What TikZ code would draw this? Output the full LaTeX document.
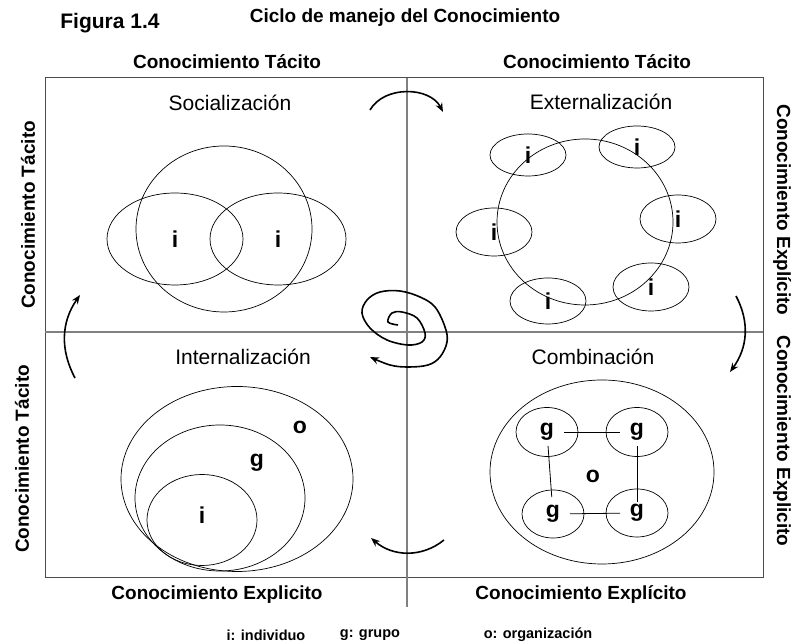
\documentclass[tikz,border=0pt]{standalone}
\usepackage{fontspec}
\setmainfont{Liberation Sans}
\usetikzlibrary{shapes,arrows.meta}

\begin{document}
\begin{tikzpicture}[x=1pt,y=1pt,
  marco/.style={draw=black!70,line width=1pt},
  eje/.style={draw=black!50,line width=1.3pt},
  rotulo/.style={font=\fontsize{19}{19}\selectfont\bfseries},
  fase/.style={font=\fontsize{21}{21}\selectfont},
  letra/.style={font=\fontsize{23}{23}\selectfont\bfseries},
  leyenda/.style={font=\fontsize{14.5}{14.5}\selectfont\bfseries},
  elipse/.style={draw,ellipse,line width=0.7pt,inner sep=0pt,letra},
  flecha/.style={line width=1.6pt,-{Stealth[length=9pt,width=7pt]}},
  enlace/.style={line width=0.8pt,shorten <=17pt,shorten >=17pt}]
\useasboundingbox (0,0) rectangle (797,644);

%: \persona{<name>}{<x,y>}{<width>}{<height>}{<text>}
\newcommand{\persona}[5]{%
\node[elipse,minimum width=#3,minimum height=#4] (#1) at (#2) {#5};}

% frame and axes
\draw[marco] (45,66) rectangle (763,566);
\draw[eje] (407,566) -- (407,37);
\draw[eje] (45,312) -- (763,312);

% titles
\node[font=\fontsize{21}{21}\selectfont\bfseries] (figura) at (110,621) {Figura 1.4};
\node[rotulo] (titulo) at (405,626) {Ciclo de manejo del Conocimiento};

% labels round the frame
\node[rotulo] (tacitoN1) at (227,582) {Conocimiento Tácito};
\node[rotulo] (tacitoN2) at (597,582) {Conocimiento Tácito};
\node[rotulo,rotate=90] (tacitoO1) at (28,429) {Conocimiento Tácito};
\node[rotulo,rotate=90] (tacitoO2) at (22,185) {Conocimiento Tácito};
\node[rotulo,rotate=-90] (explicitoE1) at (782,434) {Conocimiento Explícito};
\node[rotulo,rotate=-90] (explicitoE2) at (782,203) {Conocimiento Explicito};
\node[rotulo] (explicitoS1) at (217,49) {Conocimiento Explicito};
\node[rotulo] (explicitoS2) at (581,49) {Conocimiento Explícito};

% quadrant names
\node[fase] (socia) at (230,541) {Socialización};
\node[fase] (exter) at (601,542) {Externalización};
\node[fase] (inter) at (243,287) {Internalización};
\node[fase] (combi) at (593,287) {Combinación};

% Socializacion
\persona{grupoS}{224,415}{176}{166}{}
\persona{iS1}{175,405}{136}{92}{i}
\persona{iS2}{278,405}{136}{92}{i}

% Externalizacion
\persona{grupoE}{585,422}{176}{166}{}
\persona{iE1}{528,489}{76}{42}{i}
\persona{iE2}{637,497}{76}{42}{i}
\persona{iE3}{678,425}{76}{48}{i}
\persona{iE4}{494,412}{76}{48}{i}
\persona{iE5}{548,343}{76}{46}{i}
\persona{iE6}{651,357}{76}{48}{i}

% Combinacion
\persona{orgC}{602,172}{224}{184}{}
\persona{gA}{547,212}{62}{49}{g}
\persona{gB}{637,212}{62}{49}{g}
\persona{gC}{553,130}{62}{48}{g}
\persona{gD}{637,131}{62}{48}{g}
\node[letra] (oC) at (593,168) {o};
\draw[enlace] (gA.center) -- (gB.center);
\draw[enlace,shorten <=14pt] (gA.center) -- (gC.center);
\draw[enlace,shorten <=14pt,shorten >=11pt] (gB.center) -- (gD.center);
\draw[enlace] (gC.center) -- (gD.center);

% Internalizacion
\persona{orgI}{237,165}{232}{185}{}
\persona{grupoI}{220,146}{170}{146}{}
\persona{iI}{202,124}{110}{91}{}
\node[letra] (oI) at (300,217) {o};
\node[letra] (gI) at (257,181) {g};
\node[letra] (iIt) at (202,129) {i};

% cycle arrows
\coordinate (a1) at (370,534); \coordinate (a2) at (443,532);
\coordinate (b1) at (736,348); \coordinate (b2) at (730,272);
\coordinate (c1) at (444,104); \coordinate (c2) at (371,106);
\coordinate (d1) at (75,266);  \coordinate (d2) at (80,349);
\draw[flecha] (a1) to[out=60,in=117] (a2);
\draw[flecha] (b1) to[out=-62,in=54] (b2);
\draw[flecha] (c1) to[out=219,in=-41] (c2);
\draw[flecha] (d1) to[out=118,in=-125] (d2);

% spiral in the middle
\draw[flecha] plot[smooth,tension=0.6] coordinates {(398,319) (388,322) (392,331)
  (402,332) (417,326) (425,311) (422,302) (408,299) (387,304) (370,316)
  (362,331) (367,344) (380,352) (400,353) (420,347) (435,337) (445,317)
  (447,302) (440,287) (428,279) (408,277) (390,279) (370,287)};

% legend
\node[leyenda] (leyI) at (266,9) {i: individuo};
\node[leyenda] (leyG) at (370,9) {g: grupo};
\node[leyenda] (leyO) at (538,9) {o: organización};
\end{tikzpicture}
\end{document}
